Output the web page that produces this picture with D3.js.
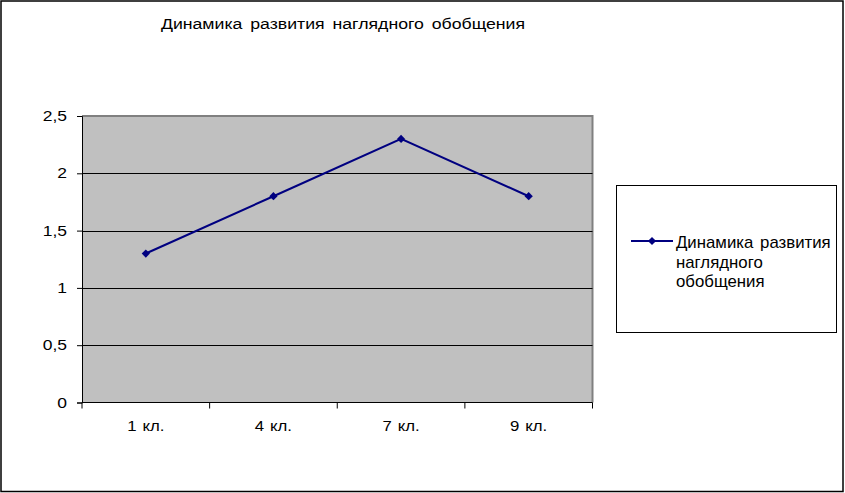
<!DOCTYPE html>
<html><head><meta charset="utf-8">
<script src="https://cdn.jsdelivr.net/npm/d3@7"></script>
<style>body{margin:0;background:#fff}svg{display:block}text{font-family:"Liberation Sans",Arial,sans-serif;fill:#000}</style>
</head><body>
<script>
const categories = ["1 кл.", "4 кл.", "7 кл.", "9 кл."];
const values = [1.3, 1.8, 2.3, 1.8];
const yTicks = [0, 0.5, 1, 1.5, 2, 2.5];
const title = "Динамика развития наглядного обобщения";
const legendLines = ["Динамика развития", "наглядного", "обобщения"];

const W = 845, H = 493;
const svg = d3.select("body").append("svg").attr("width", W).attr("height", H);
svg.append("rect").attr("x", 1).attr("y", 1).attr("width", W - 3).attr("height", H - 2.5)
  .attr("fill", "#fff").attr("stroke", "#000").attr("stroke-width", 1.5);

const L = 82, R = 592.5, T = 116, B = 402.5;
const x = d3.scaleBand().domain(categories).range([L, R]).padding(0);
const y = d3.scaleLinear().domain([0, 2.5]).range([B, T]);

function stext(sel, px, py, str, size, sx, anchor, ws) {
  return sel.append("text")
    .attr("transform", `translate(${px},${py}) scale(${sx},1)`)
    .attr("text-anchor", anchor || "start")
    .style("word-spacing", (ws || 0) + "px")
    .style("font-size", size + "px").text(str);
}

svg.append("rect").attr("x", L).attr("y", T).attr("width", R - L).attr("height", B - T).attr("fill", "#c0c0c0");
svg.append("path").attr("d", `M${L},${T}H${R}V${B}`).attr("fill", "none").attr("stroke", "#808080").attr("stroke-width", 2);

svg.append("g").selectAll("line").data(yTicks.filter(d => d > 0 && d < 2.5)).join("line")
  .attr("x1", L).attr("x2", R).attr("y1", d => Math.round(y(d)) + 0.5).attr("y2", d => Math.round(y(d)) + 0.5)
  .attr("stroke", "#000").attr("stroke-width", 1);

const fmt = d => String(d).replace(".", ",");
const yAxis = svg.append("g").attr("transform", `translate(${L},0)`)
  .call(d3.axisLeft(y).tickValues(yTicks).tickFormat(fmt).tickSize(5).tickPadding(0));
yAxis.selectAll(".tick text").remove();
yAxis.selectAll(".tick line").attr("stroke", "#000");
yAxis.select(".domain").attr("stroke", "#000");
const yl = svg.append("g");
yTicks.forEach(t => stext(yl, 67, y(t) + 5, fmt(t), 14, 1.25, "end"));

const xAxis = svg.append("g").attr("transform", `translate(0,${B})`);
xAxis.append("line").attr("x1", L).attr("x2", R).attr("stroke", "#000").attr("stroke-width", 1.2);
const bounds = categories.map(c => x(c)).concat([R]);
xAxis.selectAll("line.tk").data(bounds).join("line").attr("class", "tk")
  .attr("x1", d => d).attr("x2", d => d).attr("y1", 0).attr("y2", 6).attr("stroke", "#000");
categories.forEach(c => stext(xAxis, x(c) + x.bandwidth() / 2, 28.5, c, 14, 1.2, "middle", 1));

const cx = d => x(d) + x.bandwidth() / 2;
svg.append("path").datum(values)
  .attr("d", d3.line().x((d, i) => cx(categories[i])).y(d => y(d)))
  .attr("fill", "none").attr("stroke", "#000080").attr("stroke-width", 2);
const diamond = d3.symbol().type(d3.symbolSquare).size(34);
svg.append("g").selectAll("path").data(values).join("path")
  .attr("d", diamond).attr("transform", (d, i) => `translate(${cx(categories[i])},${y(d)}) rotate(45)`)
  .attr("fill", "#000080");

stext(svg, 343, 28.5, title, 15, 1.18, "middle", 2.5);

svg.append("rect").attr("x", 616.5).attr("y", 185.5).attr("width", 220).attr("height", 147)
  .attr("fill", "#fff").attr("stroke", "#000").attr("stroke-width", 1);
svg.append("line").attr("x1", 631).attr("x2", 673).attr("y1", 241).attr("y2", 241).attr("stroke", "#000080").attr("stroke-width", 2);
svg.append("path").attr("d", diamond).attr("transform", "translate(652,241) rotate(45)").attr("fill", "#000080");
const lg = svg.append("g");
legendLines.forEach((s, i) => stext(lg, 676, 248 + i * 19.5, s, 16, 1.05, "start", 2));
</script>
</body></html>
